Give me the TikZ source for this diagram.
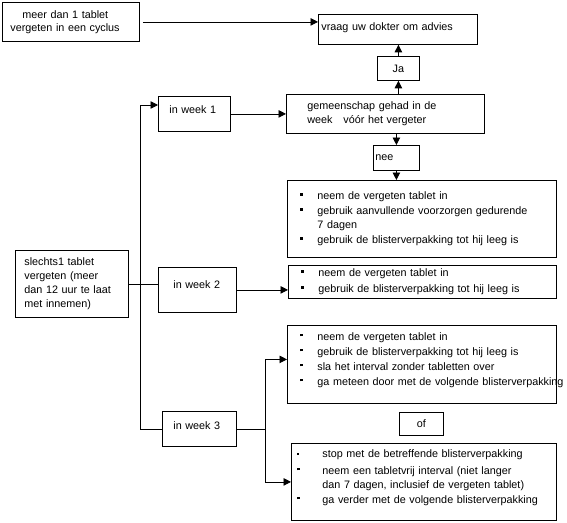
\documentclass[tikz,border=0pt]{standalone}
\usepackage{fontspec}
\setmainfont{Liberation Sans}
\usetikzlibrary{arrows.meta}
\newcommand{\blt}{\makebox[17pt][l]{\rule[4pt]{2.2pt}{2.8pt}}}
\newcommand{\bltwide}{\makebox[25pt][l]{\rule[4pt]{2.2pt}{2.8pt}}}
\begin{document}
\begin{tikzpicture}[
            x=1pt,
            y=-1pt,
            box/.style={draw, line width=0.8pt, anchor=north west, inner ysep=0pt,
              font=\fontsize{10.8}{13}\selectfont},
            arr/.style={line width=0.8pt, -{Triangle[length=7.5pt,width=7.5pt]}},
            con/.style={line width=0.8pt},
          ]
          \useasboundingbox (0,0) rectangle (567,522);
          % top row
          \node[box, minimum height=39, inner xsep=8, text width=121, align=left] (meer) at (2,2)
            {\hspace*{12pt}meer dan 1 tablet\\vergeten in een cyclus};
          \node[box, minimum height=30, inner xsep=3, text width=153, align=left] (vraag) at (318,14)
            {vraag uw dokter om advies\\[-8pt]~};
          \node[box, minimum width=42, minimum height=24, align=center] (ja) at (377,56) {Ja};
          \node[box, minimum height=39, inner xsep=21, text width=156, align=left] (gem) at (286,94)
            {gemeenschap gehad in de\\[1pt]week\quad vóór het vergeter};
          \node[box, minimum height=35, inner xsep=11, text width=50, align=left] (w1) at (158,96) {in week 1\\[-4pt]~};
          \node[box, minimum height=25, inner xsep=2, text width=42, align=left] (nee) at (373,145) {nee};
          % week 1, no
          \node[box, minimum height=77, inner xsep=13, text width=243, align=left] (l1) at (287,180)
            {\blt neem de vergeten tablet in\\[2pt]
             \blt gebruik aanvullende voorzorgen gedurende\\[1pt]
             \hspace*{17pt}7 dagen\\[2pt]
             \blt gebruik de blisterverpakking tot hij leeg is};
          % start
          \node[box, minimum height=67, inner xsep=9, text width=95, align=left] (start) at (15,250)
            {slechts1 tablet\\[1pt]vergeten (meer\\[1pt]dan 12 uur te laat\\[1pt]met innemen)};
          \node[box, minimum height=45, inner xsep=15, text width=48, align=left] (w2) at (158,267)
            {in week 2\\[-2pt]~};
          \node[box, minimum height=33, inner xsep=13, text width=242, align=left] (l2) at (288,265)
            {\blt neem de vergeten tablet in\\[3pt]
             \blt gebruik de blisterverpakking tot hij leeg is};
          % week 3
          \node[box, minimum height=78, inner xsep=13, text width=243, align=left] (l3) at (287,325)
            {\blt neem de vergeten tablet in\\[2pt]
             \blt gebruik de blisterverpakking tot hij leeg is\\[2pt]
             \blt sla het interval zonder tabletten over\\[2pt]
             \mbox{\blt ga meteen door met de volgende blisterverpakking}\\[-2pt]~};
          \node[box, minimum height=35, inner xsep=11, text width=52, align=left] (w3) at (162,411)
            {in week 3\\[-7pt]~};
          \node[box, minimum width=44, minimum height=23, align=center] (of) at (399,412) {of};
          \node[box, minimum height=77, inner xsep=6, text width=253, align=left] (l4) at (291,443)
            {\makebox[25pt][l]{\rule[2.5pt]{1.8pt}{2.2pt}}stop met de betreffende blisterverpakking\\[4pt]
             \bltwide neem een tabletvrij interval (niet langer\\[1pt]
             \hspace*{25pt}dan 7 dagen, inclusief de vergeten tablet)\\[2pt]
             \bltwide ga verder met de volgende blisterverpakking\\[-2pt]~};
          % connectors
          \coordinate (top) at (140,105);
          \coordinate (fork) at (265,0);
          \draw[arr] ([xshift=3pt]meer.east) -- (meer.east -| vraag.west);
          \draw[arr] (ja.south |- gem.north) -- (ja.south);
          \draw[arr] (ja.north) -- (ja.north |- vraag.south);
          \draw[arr] (w1.east) -- (w1.east -| gem.west);
          \draw[arr] (gem.south -| nee.north) -- (nee.north);
          \draw[arr] (nee.south) -- (nee.south |- l1.north);
          \draw[arr] (top) -- (top -| w1.west);
          \draw[con] (top) |- (w3.west);
          \draw[con] (start.east) -- (start.east -| w2.west);
          \draw[arr] (w2.east) -- (w2.east -| l2.west);
          \draw[con] (w3.east) -- (w3.east -| fork);
          \draw[arr] (w3.east -| fork) |- ([yshift=5pt]l3.west);
          \draw[arr] (w3.east -| fork) |- (l4.west);
        \end{tikzpicture}
\end{document}
